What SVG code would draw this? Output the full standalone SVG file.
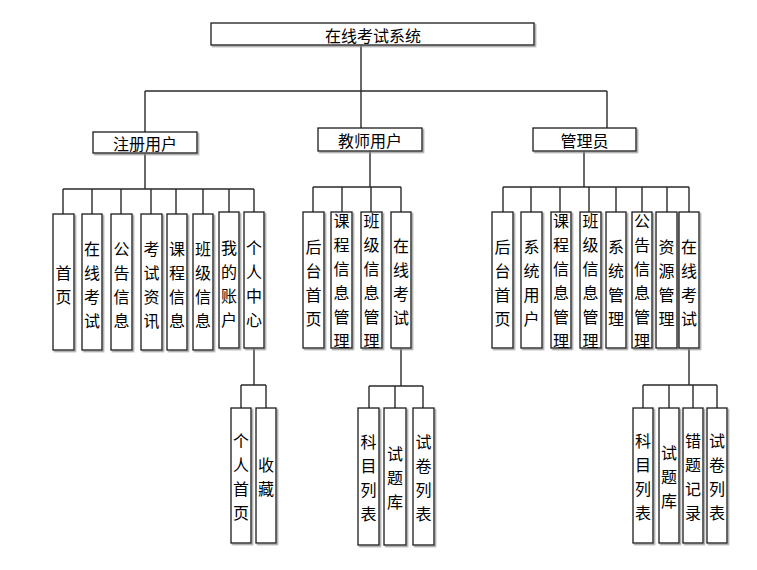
<svg xmlns="http://www.w3.org/2000/svg" width="757" height="570" viewBox="0 0 757 570">
<defs>
<filter id="sh" x="-20%" y="-20%" width="140%" height="140%">
<feDropShadow dx="1.5" dy="1.5" stdDeviation="0.6" flood-color="#8a8a8a" flood-opacity="0.8"/>
</filter>
<style>
.box{fill:#fff;stroke:#1a1a1a;stroke-width:1.3;filter:url(#sh)}
.t{font-family:"Noto Sans CJK SC","Noto Sans CJK JP",sans-serif;font-size:16px;fill:#000;text-anchor:middle;dominant-baseline:central}
.c{fill:none;stroke:#2a2a2a;stroke-width:1.4}
</style>
</defs>
<rect width="757" height="570" fill="#fff"/>
<g id="connectors" class="c">
<path d="M361,45V91M145,91H607M145,91V132M361,91V128M607,91V128"/>
<path d="M145,153V189M63,189H254M63,189V214M92,189V214M121,189V214M151,189V214M176,189V214M203,189V214M229,189V212M254,189V212"/>
<path d="M370,151V187M313,187H401M313,187V212M342,187V212M371,187V212M401,187V212"/>
<path d="M584,151V187M503,187H689M503,187V212M531,187V212M560,187V212M589,187V212M616,187V212M642,187V212M667,187V212M689,187V212"/>
<path d="M254,348V385M241,385H266M241,385V408M266,385V408"/>
<path d="M401,348V386M369,386H423M369,386V408M395,386V408M423,386V408"/>
<path d="M689,348V385M643,385H717M643,385V408M669,385V408M693,385V408M717,385V408"/>
</g>
<g id="root"><rect class="box" x="211" y="23" width="323" height="22"/><text class="t" x="373" y="35">在线考试系统</text></g>
<g id="reg"><rect class="box" x="93" y="132" width="104" height="21"/><text class="t" x="145" y="142.5">注册用户</text></g>
<g id="teacher"><rect class="box" x="318" y="128" width="104" height="23"/><text class="t" x="370" y="139.5">教师用户</text></g>
<g id="admin"><rect class="box" x="533" y="128" width="103" height="23"/><text class="t" x="584.5" y="139.5">管理员</text></g>

<g id="r1"><rect class="box" x="53" y="214" width="21" height="136"/><text class="t" x="63.5"><tspan x="63.5" y="271.5">首</tspan><tspan x="63.5" y="295.5">页</tspan></text></g>
<g id="r2"><rect class="box" x="82" y="214" width="20" height="136"/><text class="t"><tspan x="92" y="247.5">在</tspan><tspan x="92" y="271.5">线</tspan><tspan x="92" y="295.5">考</tspan><tspan x="92" y="319.5">试</tspan></text></g>
<g id="r3"><rect class="box" x="111" y="214" width="21" height="136"/><text class="t"><tspan x="121.5" y="247.5">公</tspan><tspan x="121.5" y="271.5">告</tspan><tspan x="121.5" y="295.5">信</tspan><tspan x="121.5" y="319.5">息</tspan></text></g>
<g id="r4"><rect class="box" x="141" y="214" width="21" height="136"/><text class="t"><tspan x="151.5" y="247.5">考</tspan><tspan x="151.5" y="271.5">试</tspan><tspan x="151.5" y="295.5">资</tspan><tspan x="151.5" y="319.5">讯</tspan></text></g>
<g id="r5"><rect class="box" x="167" y="214" width="20" height="136"/><text class="t"><tspan x="177" y="247.5">课</tspan><tspan x="177" y="271.5">程</tspan><tspan x="177" y="295.5">信</tspan><tspan x="177" y="319.5">息</tspan></text></g>
<g id="r6"><rect class="box" x="193" y="214" width="20" height="136"/><text class="t"><tspan x="203" y="247.5">班</tspan><tspan x="203" y="271.5">级</tspan><tspan x="203" y="295.5">信</tspan><tspan x="203" y="319.5">息</tspan></text></g>
<g id="r7"><rect class="box" x="219" y="212" width="20" height="136"/><text class="t"><tspan x="229" y="246.5">我</tspan><tspan x="229" y="270.5">的</tspan><tspan x="229" y="294.5">账</tspan><tspan x="229" y="318.5">户</tspan></text></g>
<g id="r8"><rect class="box" x="244" y="212" width="20" height="136"/><text class="t"><tspan x="254" y="246.5">个</tspan><tspan x="254" y="270.5">人</tspan><tspan x="254" y="294.5">中</tspan><tspan x="254" y="318.5">心</tspan></text></g>

<g id="t1"><rect class="box" x="303" y="212" width="21" height="136"/><text class="t"><tspan x="313.5" y="245.5">后</tspan><tspan x="313.5" y="269.5">台</tspan><tspan x="313.5" y="293.5">首</tspan><tspan x="313.5" y="317.5">页</tspan></text></g>
<g id="t2"><rect class="box" x="331" y="212" width="21" height="136"/><text class="t"><tspan x="341.5" y="220">课</tspan><tspan x="341.5" y="244">程</tspan><tspan x="341.5" y="268">信</tspan><tspan x="341.5" y="292">息</tspan><tspan x="341.5" y="316">管</tspan><tspan x="341.5" y="340">理</tspan></text></g>
<g id="t3"><rect class="box" x="361" y="212" width="21" height="136"/><text class="t"><tspan x="371.5" y="220">班</tspan><tspan x="371.5" y="244">级</tspan><tspan x="371.5" y="268">信</tspan><tspan x="371.5" y="292">息</tspan><tspan x="371.5" y="316">管</tspan><tspan x="371.5" y="340">理</tspan></text></g>
<g id="t4"><rect class="box" x="391" y="212" width="20" height="136"/><text class="t"><tspan x="401" y="245">在</tspan><tspan x="401" y="269">线</tspan><tspan x="401" y="293">考</tspan><tspan x="401" y="317">试</tspan></text></g>

<g id="a1"><rect class="box" x="492" y="212" width="21" height="136"/><text class="t"><tspan x="502.5" y="245.5">后</tspan><tspan x="502.5" y="269.5">台</tspan><tspan x="502.5" y="293.5">首</tspan><tspan x="502.5" y="317.5">页</tspan></text></g>
<g id="a2"><rect class="box" x="521" y="212" width="21" height="136"/><text class="t"><tspan x="531.5" y="245.5">系</tspan><tspan x="531.5" y="269.5">统</tspan><tspan x="531.5" y="293.5">用</tspan><tspan x="531.5" y="317.5">户</tspan></text></g>
<g id="a3"><rect class="box" x="551" y="212" width="20" height="136"/><text class="t"><tspan x="561" y="220">课</tspan><tspan x="561" y="244">程</tspan><tspan x="561" y="268">信</tspan><tspan x="561" y="292">息</tspan><tspan x="561" y="316">管</tspan><tspan x="561" y="340">理</tspan></text></g>
<g id="a4"><rect class="box" x="580" y="212" width="21" height="136"/><text class="t"><tspan x="590.5" y="220">班</tspan><tspan x="590.5" y="244">级</tspan><tspan x="590.5" y="268">信</tspan><tspan x="590.5" y="292">息</tspan><tspan x="590.5" y="316">管</tspan><tspan x="590.5" y="340">理</tspan></text></g>
<g id="a5"><rect class="box" x="606" y="212" width="20" height="136"/><text class="t"><tspan x="616" y="245.5">系</tspan><tspan x="616" y="269.5">统</tspan><tspan x="616" y="293.5">管</tspan><tspan x="616" y="317.5">理</tspan></text></g>
<g id="a6"><rect class="box" x="632" y="212" width="20" height="136"/><text class="t"><tspan x="642" y="220">公</tspan><tspan x="642" y="244">告</tspan><tspan x="642" y="268">信</tspan><tspan x="642" y="292">息</tspan><tspan x="642" y="316">管</tspan><tspan x="642" y="340">理</tspan></text></g>
<g id="a7"><rect class="box" x="656" y="212" width="21" height="136"/><text class="t"><tspan x="666.5" y="245.5">资</tspan><tspan x="666.5" y="269.5">源</tspan><tspan x="666.5" y="293.5">管</tspan><tspan x="666.5" y="317.5">理</tspan></text></g>
<g id="a8"><rect class="box" x="679" y="212" width="20" height="136"/><text class="t"><tspan x="689" y="245.5">在</tspan><tspan x="689" y="269.5">线</tspan><tspan x="689" y="293.5">考</tspan><tspan x="689" y="317.5">试</tspan></text></g>

<g id="p1"><rect class="box" x="231" y="408" width="20" height="135"/><text class="t"><tspan x="241" y="440">个</tspan><tspan x="241" y="464">人</tspan><tspan x="241" y="488">首</tspan><tspan x="241" y="512">页</tspan></text></g>
<g id="p2"><rect class="box" x="256" y="408" width="20" height="135"/><text class="t"><tspan x="266" y="464">收</tspan><tspan x="266" y="488">藏</tspan></text></g>

<g id="te1"><rect class="box" x="358" y="408" width="21" height="137"/><text class="t"><tspan x="368.5" y="441">科</tspan><tspan x="368.5" y="465">目</tspan><tspan x="368.5" y="489">列</tspan><tspan x="368.5" y="513">表</tspan></text></g>
<g id="te2"><rect class="box" x="384" y="408" width="22" height="137"/><text class="t"><tspan x="395" y="453">试</tspan><tspan x="395" y="477">题</tspan><tspan x="395" y="501">库</tspan></text></g>
<g id="te3"><rect class="box" x="413" y="408" width="21" height="137"/><text class="t"><tspan x="423.5" y="441">试</tspan><tspan x="423.5" y="465">卷</tspan><tspan x="423.5" y="489">列</tspan><tspan x="423.5" y="513">表</tspan></text></g>

<g id="ae1"><rect class="box" x="633" y="408" width="20" height="135"/><text class="t"><tspan x="643" y="440">科</tspan><tspan x="643" y="464">目</tspan><tspan x="643" y="488">列</tspan><tspan x="643" y="512">表</tspan></text></g>
<g id="ae2"><rect class="box" x="659" y="408" width="20" height="135"/><text class="t"><tspan x="669" y="452">试</tspan><tspan x="669" y="476">题</tspan><tspan x="669" y="500">库</tspan></text></g>
<g id="ae3"><rect class="box" x="683" y="408" width="20" height="135"/><text class="t"><tspan x="693" y="440">错</tspan><tspan x="693" y="464">题</tspan><tspan x="693" y="488">记</tspan><tspan x="693" y="512">录</tspan></text></g>
<g id="ae4"><rect class="box" x="707" y="408" width="20" height="135"/><text class="t"><tspan x="717" y="440">试</tspan><tspan x="717" y="464">卷</tspan><tspan x="717" y="488">列</tspan><tspan x="717" y="512">表</tspan></text></g>
</svg>
